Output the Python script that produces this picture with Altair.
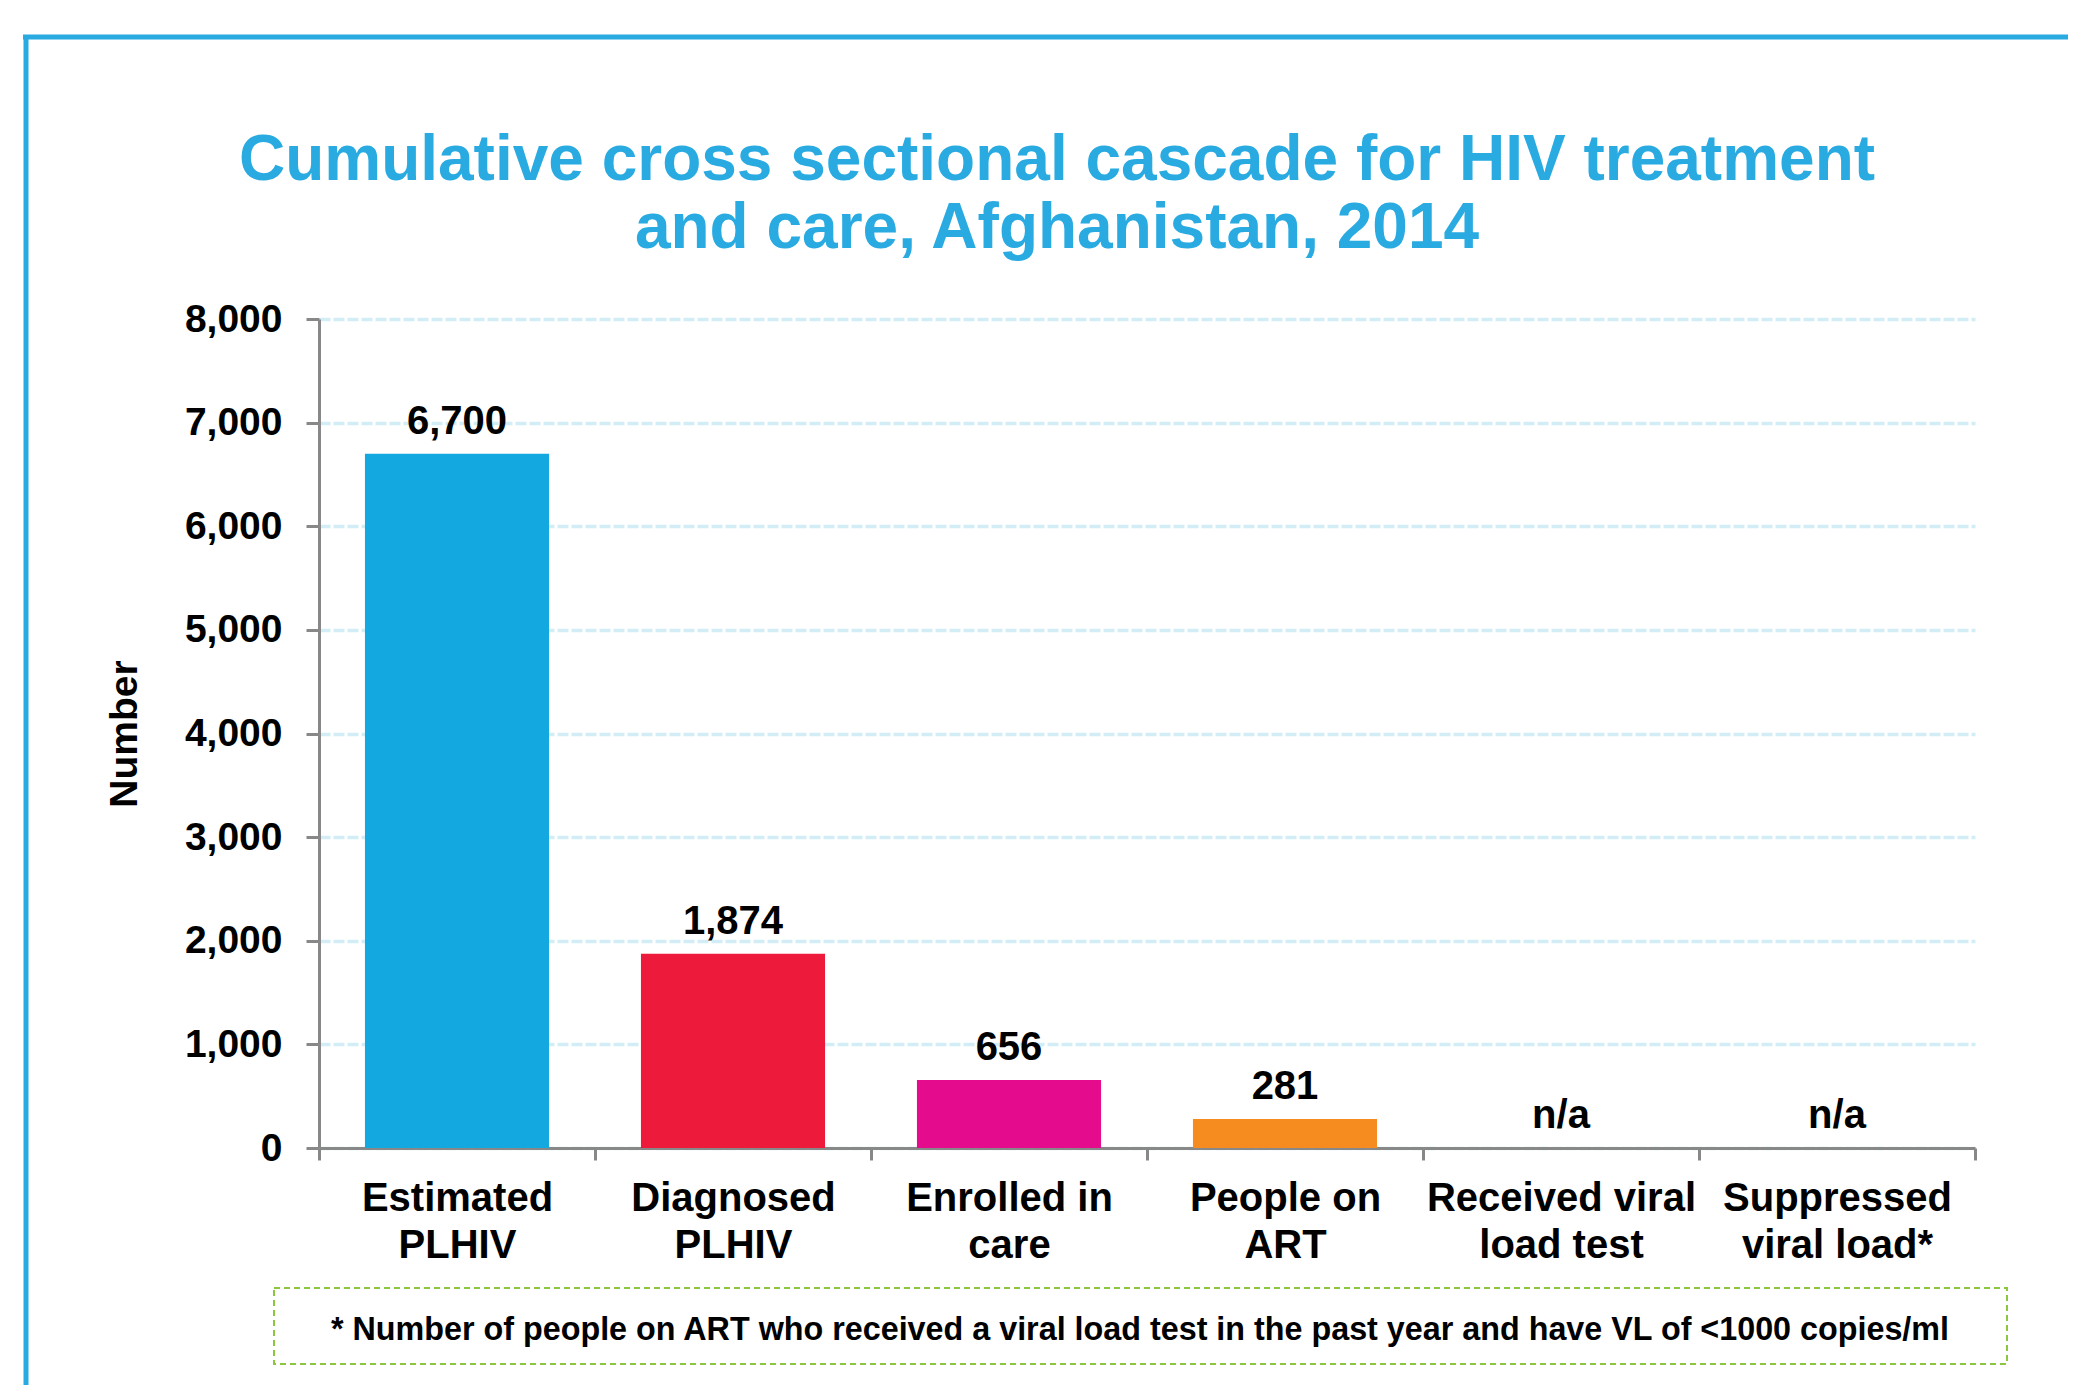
import altair as alt
import pandas as pd

categories = ["Estimated\nPLHIV", "Diagnosed\nPLHIV", "Enrolled in\ncare",
              "People on\nART", "Received viral\nload test", "Suppressed\nviral load*"]
values = [6700, 1874, 656, 281, None, None]
bar_colors = ["#13A8DF", "#ED1A3B", "#E40C8C", "#F68B1F", "#FFFFFF", "#FFFFFF"]
y_ticks = [0, 1000, 2000, 3000, 4000, 5000, 6000, 7000, 8000]
title_lines = ["Cumulative cross sectional cascade for HIV treatment",
               "and care, Afghanistan, 2014"]
y_title = "Number"
footnote = "* Number of people on ART who received a viral load test in the past year and have VL of <1000 copies/ml"

FONT = "Liberation Sans"
W, H = 1656, 829

df = pd.DataFrame({"category": categories, "value": values})
one = pd.DataFrame({"d": [0]})

x_enc = alt.X(
    "category:N", sort=categories, title=None,
    scale=alt.Scale(paddingInner=0, paddingOuter=0),
    axis=alt.Axis(
        labelExpr="split(datum.label, '\\n')",
        labelAngle=0, labelFont=FONT, labelFontSize=40, labelFontWeight="bold",
        labelColor="black", labelLineHeight=47, labelPadding=18, labelBaseline="top",
        labelLimit=0,
        tickBand="extent", tickSize=12, tickWidth=3, tickColor="#888888",
        domainColor="#888888", domainWidth=3, grid=False,
    ),
)

y_scale = alt.Scale(domain=[0, 8000], nice=False)

bars = alt.Chart(df).mark_bar(width=alt.RelativeBandSize(0.667)).encode(
    x=x_enc,
    y=alt.Y(
        "value:Q", scale=y_scale, title=y_title,
        axis=alt.Axis(
            values=y_ticks, format=",d",
            labelFont=FONT, labelFontSize=39, labelFontWeight="bold", labelColor="black",
            labelPadding=24, tickSize=13, tickWidth=3, tickColor="#888888",
            domainColor="#888888", domainWidth=3,
            grid=True, gridColor="#D3EDF6", gridWidth=3.5, gridDash=[11, 3],
            titleFont=FONT, titleFontSize=39, titleFontWeight="bold", titleColor="black",
            titlePadding=40,
        ),
    ),
    color=alt.Color("category:N", sort=categories,
                    scale=alt.Scale(domain=categories, range=bar_colors), legend=None),
)

labels = alt.Chart(df).transform_calculate(
    label_y="isValid(datum.value) ? datum.value : 0",
    label_text="isValid(datum.value) ? format(datum.value, ',') : 'n/a'",
).mark_text(
    font=FONT, fontSize=40, fontWeight="bold", color="black",
    baseline="alphabetic", dy=-20,
).encode(
    x=alt.X("category:N", sort=categories),
    y=alt.Y("label_y:Q", scale=y_scale),
    text="label_text:N",
)

title1 = alt.Chart(one).mark_text(
    font=FONT, fontSize=64, fontWeight="bold", color="#29ABE2",
    align="center", baseline="alphabetic",
).encode(x=alt.value(738), y=alt.value(-139), text=alt.value(title_lines[0]))
title2 = alt.Chart(one).mark_text(
    font=FONT, fontSize=64, fontWeight="bold", color="#29ABE2",
    align="center", baseline="alphabetic",
).encode(x=alt.value(738), y=alt.value(-71), text=alt.value(title_lines[1]))

border_top = alt.Chart(one).mark_rule(color="#29ABE2", strokeWidth=5).encode(
    x=alt.value(-296), x2=alt.value(1760), y=alt.value(-282))
border_left = alt.Chart(one).mark_rule(color="#29ABE2", strokeWidth=5).encode(
    x=alt.value(-293), y=alt.value(-284), y2=alt.value(1080))

note_box = alt.Chart(one).mark_rect(
    fill=None, stroke="#8CC63F", strokeWidth=2, strokeDash=[6, 4]
).encode(x=alt.value(-45), x2=alt.value(1688), y=alt.value(969), y2=alt.value(1045))

note_text = alt.Chart(one).mark_text(
    font=FONT, fontSize=32.3, fontWeight="bold", color="black",
    align="center", baseline="alphabetic",
).encode(x=alt.value(821), y=alt.value(1021), text=alt.value(footnote))

chart = alt.layer(bars, labels, title1, title2, border_top, border_left,
                  note_box, note_text).properties(
    width=W, height=H,
    background="white",
    autosize=alt.AutoSizeParams(type="none"),
    padding={"left": 311, "top": 311, "right": 93, "bottom": 237},
).configure_view(strokeWidth=0, stroke="transparent").configure_axisX(grid=False)

chart.save("out.html", embed_options={"renderer": "svg", "actions": False})
